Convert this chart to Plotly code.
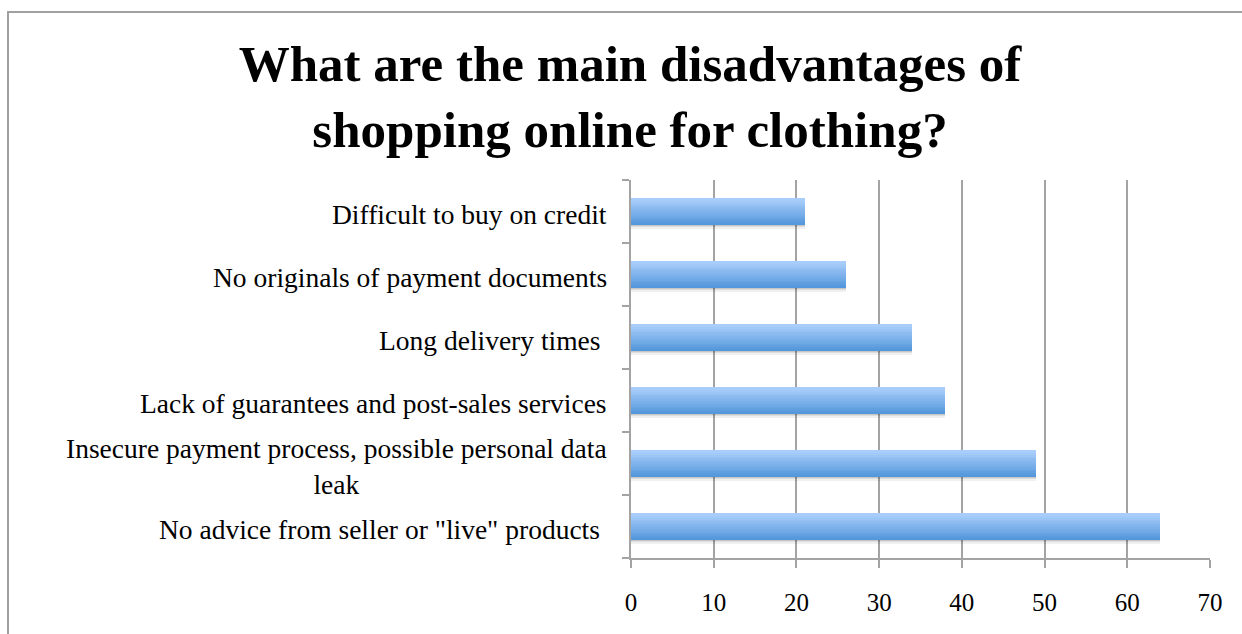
import plotly.graph_objects as go

categories = [
    'No advice from seller or "live" products ',
    "Insecure payment process, possible personal data<br>leak",
    "Lack of guarantees and post-sales services",
    "Long delivery times ",
    "No originals of payment documents",
    "Difficult to buy on credit",
]
values = [64, 49, 38, 34, 26, 21]
x_ticks = [0, 10, 20, 30, 40, 50, 60, 70]

FONT = "Liberation Serif"
W, H = 1242, 634
L, R, T, B = 631, 32, 180, 76
pw, ph = W - L - R, H - T - B

fig = go.Figure()

bar_w = 0.41
# soft shadow
for i, (dy, op) in enumerate([(0.07, 0.06), (0.045, 0.08), (0.025, 0.1)]):
    fig.add_trace(go.Bar(
        y=categories, x=values, orientation="h",
        width=bar_w, offset=-bar_w / 2 - dy,
        marker=dict(color=f"rgba(0,0,0,{op})", line=dict(width=0)),
        hoverinfo="skip", showlegend=False,
    ))

# gradient bar built from stripes
N = 14
top = (168, 205, 250)
bot = (84, 151, 220)
sw = bar_w / N
for k in range(N):
    t = k / (N - 1)
    c = tuple(round(bot[j] + (top[j] - bot[j]) * t) for j in range(3))
    fig.add_trace(go.Bar(
        y=categories, x=values, orientation="h",
        width=sw * 1.05, offset=-bar_w / 2 + k * sw,
        marker=dict(color=f"rgb{c}", line=dict(width=0)),
        hoverinfo="skip", showlegend=False,
    ))

for cat in categories:
    fig.add_annotation(
        x=0, xref="paper", y=cat, yref="y", text=cat,
        xanchor="right", yanchor="middle", align="center",
        xshift=-22, yshift=-3, showarrow=False,
        font=dict(family=FONT, size=27.5, color="#000"),
    )

fig.update_layout(
    width=W, height=H,
    margin=dict(l=L, r=R, t=T, b=B, pad=0),
    paper_bgcolor="white", plot_bgcolor="white",
    barmode="overlay", bargap=0,
    showlegend=False,
    title=dict(
        text="<b>What are the main disadvantages of<br>shopping online for clothing?</b>",
        x=630 / W, xanchor="center", xref="container",
        y=1 - 81 / H, yanchor="middle", yref="container",
        font=dict(family=FONT, size=51, color="#000"),
    ),
    xaxis=dict(
        range=[0, 70], tickvals=x_ticks, ticktext=[str(v) for v in x_ticks],
        showgrid=True, gridcolor="#a3a3a3", gridwidth=1.5,
        showline=True, linecolor="#a3a3a3", linewidth=1.5,
        ticks="outside", ticklen=8, tickcolor="#a3a3a3", tickwidth=1.5,
        ticklabelstandoff=13,
        tickfont=dict(family=FONT, size=25, color="#000"),
        zeroline=False, fixedrange=True,
    ),
    yaxis=dict(
        type="category", categoryorder="array", categoryarray=categories,
        range=[-0.5, len(categories) - 0.5],
        showticklabels=False, showgrid=False,
        showline=True, linecolor="#a3a3a3", linewidth=1.5,
        ticks="outside", ticklen=7, tickcolor="#a3a3a3", tickwidth=1.5,
        tickson="boundaries", zeroline=False, fixedrange=True,
    ),
    shapes=[dict(
        type="rect", xref="paper", yref="paper",
        x0=(8 - L) / pw, x1=(W + 10 - L) / pw,
        y0=-(H + 10 - T - ph) / ph, y1=1 + (T - 12) / ph,
        line=dict(color="#a0a0a0", width=2), fillcolor="rgba(0,0,0,0)",
        layer="below",
    )],
)

fig.write_html("out.html")
